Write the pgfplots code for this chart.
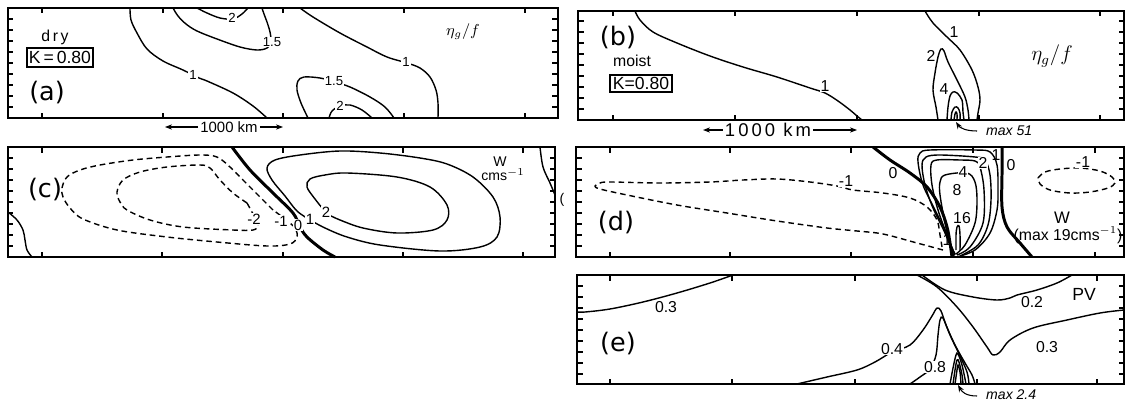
\documentclass[border=0pt]{standalone}
\usepackage{fontspec}
\setmainfont{DejaVu Sans}
\newfontfamily\lab{Liberation Sans}
\usepackage{pgfplots}
\pgfplotsset{compat=1.18}
\usetikzlibrary{arrows.meta}

% every panel uses the pixel grid of the original figure (1 px = 0.02 cm)
\pgfplotsset{
  panel/.style={scale only axis, anchor=north west, y dir=reverse, clip=false,
    axis line style={line width=0.6pt}, tick align=inside,
    xticklabels={}, yticklabels={}, major tick length=0.11cm,
    tick style={line width=0.6pt, black}},
  cl/.style={black, line width=0.8pt, smooth, tension=0.55, no markers},
  cd/.style={cl, dash pattern=on 3.2pt off 2.2pt},
  ct/.style={cl, line width=1.7pt},
}
\tikzset{
  lb/.style={font=\lab\fontsize{7.5}{8}\selectfont, fill=white, inner sep=0.5pt},
  lbb/.style={font=\lab\fontsize{9}{10}\selectfont, fill=white, inner sep=0.5pt},
  pl/.style={font=\fontsize{14.5}{16}\selectfont, inner sep=0pt},
  arr/.style={-{Stealth[length=4pt,width=3pt]}, line width=0.6pt},
}

\begin{document}
\begin{tikzpicture}
\path[use as bounding box] (0cm,0cm) rectangle (22.52cm,-8.06cm);

% ---------------- (a) dry, eta_g/f
\begin{axis}[panel, at={(0.16cm,-0.16cm)}, width=11cm, height=2.2cm,
  xmin=8, xmax=558, ymin=8, ymax=118,
  xtick={42,163,283,404,525}, ytick={19,30,...,107}]
\addplot[cl] coordinates {(130,8) (131,20) (137,33) (147,49) (163,61) (183,70) (199,78) (207,81) (233,93) (253,106) (267,118)};
\addplot[cl] coordinates {(173,8) (178,16) (186,24) (197,31) (217,39) (240,47) (257,50) (267,48) (271,42) (270,32) (267,22) (264,14) (262,8)};
\addplot[cl] coordinates {(197,8) (207,13) (220,18) (233,19) (242,14) (248,8)};
\addplot[cl] coordinates {(300,8) (313,17) (340,33) (367,47) (387,57) (407,63) (420,68) (430,77) (436,90) (438,103) (438,118)};
\addplot[cl] coordinates {(308,118) (301,103) (297,90) (298,81) (304,77) (320,78) (335,82) (350,87) (370,97) (385,107) (394,118)};
\addplot[cl] coordinates {(329,118) (332,111) (340,106) (350,105) (362,110) (372,118)};
\node[lb] at (193,75) {1};
\node[lb] at (272,42) {1.5};
\node[lb] at (232,18) {2};
\node[lb] at (406,62) {1};
\node[lb] at (334,81) {1.5};
\node[lb] at (340,106) {2};
\node[font=\fontsize{9}{10}\selectfont] at (463,32) {$\eta_g/f$};
\node[font=\lab\fontsize{9}{10}\selectfont] at (55,37) {d\,r\,y};
\node[draw, line width=0.6pt, minimum width=1.32cm, minimum height=0.38cm, inner sep=0pt,
  font=\lab\fontsize{10}{11}\selectfont] at (60,57.5) {K\,=\,0.80};
\node[pl] at (47,93) {(a)};
\node[font=\lab\fontsize{8.5}{9}\selectfont, inner sep=1pt] (ka) at (229,127) {1000 km};
\draw[arr] (ka.west) -- (165,127);
\draw[arr] (ka.east) -- (283,127);
\end{axis}

% ---------------- (b) moist, eta_g/f
\begin{axis}[panel, at={(11.56cm,-0.22cm)}, width=10.92cm, height=2.18cm,
  xmin=578, xmax=1124, ymin=11, ymax=120,
  xtick={613,735,857,979,1100}, ytick={21,32,...,110}]
\addplot[cl] coordinates {(635,11) (640,20) (653,32) (677,43) (710,56) (743,67) (777,77) (810,88) (825,93) (838,101) (850,110) (857,116) (862,120)};
\addplot[cl] coordinates {(925,11) (933,23) (947,37) (960,50) (972,70) (978,87) (980,100) (978,113) (977,120)};
\addplot[cl] coordinates {(938,120) (936,107) (933,90) (935,73) (938,57) (941,49) (944,51) (948,62) (957,80) (965,97) (968,110) (969,120)};
\addplot[cl] coordinates {(947,120) (948,107) (950,96) (953,92) (957,93) (962,100) (963,112) (964,120)};
\addplot[cl] coordinates {(951,120) (952,112) (955,107) (958,108) (960,113) (960,120)};
\addplot[cl] coordinates {(954,120) (955,114) (956,112) (957,114) (957,120)};
\node[lbb] at (825,86) {1};
\node[lbb] at (954,32) {1};
\node[lbb] at (931,56) {2};
\node[lbb] at (944,89) {4};
\node[font=\fontsize{11.5}{12}\selectfont] at (1052,56) {$\eta_g/f$};
\node[pl] at (618,37) {(b)};
\node[font=\lab\fontsize{9}{10}\selectfont] at (632,61) {moist};
\node[draw, line width=0.6pt, minimum width=1.24cm, minimum height=0.34cm, inner sep=0pt,
  font=\lab\fontsize{10}{11}\selectfont] at (641,83.5) {K=0.80};
\node[font=\lab\itshape\fontsize{8}{9}\selectfont, anchor=west] at (980,131) {max 51};
\draw[arr] (977,131) .. controls (966,131) and (960,128) .. (956,122);
\node[font=\lab\fontsize{10.5}{11}\selectfont, inner sep=1pt] (kb) at (768,130) {1\,0\,0\,0\, k\,m};
\draw[arr] (kb.west) -- (703,130);
\draw[arr] (kb.east) -- (857,130);
\end{axis}

% ---------------- (c) dry, w
\begin{axis}[panel, at={(0.16cm,-2.94cm)}, width=10.94cm, height=2.2cm,
  xmin=8, xmax=555, ymin=147, ymax=257,
  xtick={42,162,283,403,523}, ytick={158,169,...,247}]
\addplot[cl] coordinates {(8,212) (17,220) (23,230) (25,240) (27,250) (32,257)};
\addplot[cd] coordinates {(273,210) (260,197) (243,180) (230,167) (217,157) (200,155) (167,157) (133,160) (100,165) (80,170) (67,177) (62,188) (63,197) (70,208) (83,219) (117,230) (167,237) (217,242) (267,246) (290,244) (297,237) (295,228) (285,219) (273,210)};
\addplot[cd] coordinates {(247,203) (233,193) (220,180) (210,168) (200,165) (167,167) (140,172) (123,180) (117,192) (120,202) (127,210) (150,220) (183,227) (233,230) (253,230) (258,225) (253,214) (247,203)};
\addplot[ct] coordinates {(232,147) (250,170) (273,193) (293,213) (300,227) (307,237) (323,250) (335,257)};
\addplot[cl] coordinates {(310,220) (297,211) (285,196) (272,180) (267,168) (275,160) (300,155) (340,151) (380,153) (420,158) (447,164) (473,177) (493,197) (500,217) (497,237) (480,247) (440,251) (380,245) (347,237) (325,228) (310,220)};
\addplot[cl] coordinates {(327,214) (315,199) (307,187) (310,179) (325,175) (347,173) (397,177) (430,187) (447,205) (447,220) (433,230) (397,233) (363,228) (340,220) (327,214)};
\addplot[cl] coordinates {(540,147) (543,167) (550,183) (555,195)};
\node[lbb, font=\lab\fontsize{8.5}{9}\selectfont] at (254,219) {-2};
\node[lbb, font=\lab\fontsize{8.5}{9}\selectfont] at (281,221) {-1};
\node[lbb, font=\lab\fontsize{8.5}{9}\selectfont] at (298,225) {0};
\node[lbb, font=\lab\fontsize{8.5}{9}\selectfont] at (310,219) {1};
\node[lbb, font=\lab\fontsize{8.5}{9}\selectfont] at (326,212) {2};
\node[font=\lab\fontsize{8}{9}\selectfont] at (500,162) {W};
\node[font=\lab\fontsize{8}{9}\selectfont] at (503,175) {cms$^{-1}$};
\node[font=\lab\fontsize{8}{9}\selectfont] at (562,200) {(};
\node[pl] at (45,190) {(c)};
\end{axis}

% ---------------- (d) moist, w
\begin{axis}[panel, at={(11.52cm,-2.94cm)}, width=10.96cm, height=2.2cm,
  xmin=576, xmax=1124, ymin=147, ymax=257,
  xtick={610,730,851,973,1095}, ytick={158,169,...,247}]
\addplot[cd] coordinates {(943,250) (917,243) (883,234) (857,231) (827,228) (777,221) (727,213) (677,205) (627,195) (600,189) (595,186) (600,183) (610,182) (660,183) (710,182) (743,180) (777,179) (810,182) (837,186) (853,190) (883,193) (910,198) (927,207) (937,220) (940,235) (942,247)};
\addplot[ct] coordinates {(873,147) (890,160) (910,173) (927,187) (940,207) (947,227) (950,243) (952,257)};
\addplot[cl] coordinates {(953,257) (947,235) (935,210) (923,185) (918,162) (920,153) (930,150) (975,150) (990,152) (997,165) (998,190) (997,210) (990,233) (975,250) (957,257)};
\addplot[cl] coordinates {(954,256) (945,233) (933,208) (925,185) (922,165) (926,157) (940,155) (975,157) (985,160) (990,175) (991,200) (988,225) (978,245) (960,256)};
\addplot[cl] coordinates {(955,255) (947,235) (938,210) (932,185) (931,165) (937,160) (960,160) (975,161) (980,167) (984,190) (983,223) (970,247) (957,255)};
\addplot[cl] coordinates {(955,254) (950,243) (945,223) (940,195) (940,182) (945,175) (967,173) (975,182) (977,200) (975,223) (965,245) (956,254)};
\addplot[cl] coordinates {(956,250) (956,235) (957,227) (959,226) (960,235) (960,250)};
\addplot[ct] coordinates {(1002,147) (1002,173) (1002,207) (1007,227) (1020,243) (1032,257)};
\addplot[cd] coordinates {(1038,178) (1045,172) (1060,169) (1080,168) (1100,171) (1112,177) (1115,183) (1108,188) (1090,192) (1070,193) (1050,190) (1040,184) (1038,178)};
\node[lbb] at (846,181) {-1};
\node[lbb, fill=none] at (893,173) {0};
\node[lbb, fill=none] at (1011,165) {0};
\node[lbb] at (983,163) {2};
\node[lbb] at (963,172) {4};
\node[lbb] at (957,190) {8};
\node[lbb] at (962,218) {16};
\node[lbb, fill=none] at (947,240) {1};
\node[lbb, fill=none] at (996,155) {1};
\node[lbb] at (1083,162) {-1};
\node[font=\lab\fontsize{9.5}{10}\selectfont] at (1062,218) {W};
\node[font=\lab\fontsize{9}{10}\selectfont] at (1068,235) {(max 19cms$^{-1}$)};
\node[pl] at (616,222) {(d)};
\end{axis}

% ---------------- (e) moist, PV
\begin{axis}[panel, at={(11.54cm,-5.5cm)}, width=10.94cm, height=2.18cm,
  xmin=577, xmax=1124, ymin=275, ymax=384,
  xtick={610,732,855,977,1097}, ytick={286,297,...,374}]
\addplot[cl] coordinates {(577,312) (585,312) (610,309) (643,302) (677,293) (710,283) (733,275)};
\addplot[cl] coordinates {(797,384) (827,377) (857,370) (875,362) (892,352) (910,345) (923,330) (932,316) (937,308) (941,311) (946,325) (955,345) (965,363) (972,375) (975,384)};
\addplot[cl] coordinates {(910,384) (920,377) (930,369) (936,355) (938,335) (940,320) (943,318) (950,335) (960,356) (967,372) (969,384)};
\addplot[cl] coordinates {(950,384) (953,368) (956,355) (958,354) (962,365) (966,384)};
\addplot[cl] coordinates {(953,384) (955,370) (957,360) (959,362) (962,375) (963,384)};
\addplot[cl] coordinates {(955,384) (957,370) (958,365) (960,372) (961,384)};
\addplot[cl] coordinates {(917,275) (937,287) (957,307) (973,327) (987,347) (993,355) (1000,352) (1010,340) (1033,328) (1067,320) (1100,313) (1124,310)};
\addplot[cl] coordinates {(922,275) (945,290) (973,297) (997,300) (1010,298) (1017,295) (1037,290) (1057,283) (1072,275)};
\node[lbb, fill=none] at (666,307) {0.3};
\node[lbb] at (892,349) {0.4};
\node[lbb] at (935,367) {0.8};
\node[lbb, fill=none] at (1047,347) {0.3};
\node[lbb, fill=none] at (1032,302) {0.2};
\node[font=\lab\fontsize{10}{11}\selectfont] at (1084,294) {PV};
\node[pl] at (618,344) {(e)};
\node[font=\lab\itshape\fontsize{8}{9}\selectfont, anchor=west] at (980,395) {max 2.4};
\draw[arr] (977,396) .. controls (966,396) and (962,392) .. (958,385);
\end{axis}
\end{tikzpicture}
\end{document}
